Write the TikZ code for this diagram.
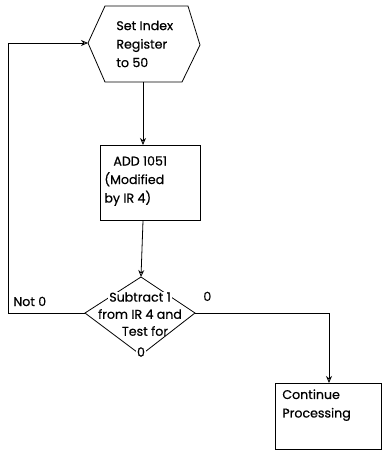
\documentclass[tikz,border=0pt]{standalone}
\usepackage{fontspec}
\setmainfont{Poppins}
\newfontfamily\fut{Poppins}[FakeBold=0.6]
\usetikzlibrary{arrows.meta}
\begin{document}
\begin{tikzpicture}[x=1pt,y=-1pt,
  line width=0.8pt,
  txt/.style={font=\fut\fontsize{12.6}{18.5}\selectfont, inner sep=0pt, align=left},
  wtxt/.style={txt, fill=white, inner xsep=1pt, inner ysep=0.5pt},
  conn/.style={draw, -{Stealth[length=7pt,width=6pt,open]}}]
\useasboundingbox (0,0) rectangle (381,461);
% hexagon
\coordinate (hTL) at (105,6);
\coordinate (hTR) at (188,6);
\coordinate (hR) at (200,45);
\coordinate (hBR) at (182,82);
\coordinate (hBL) at (105,82);
\coordinate (hL) at (88,43);
\draw (hTL) -- (hTR) -- (hR) -- (hBR) -- (hBL) -- (hL) -- cycle;
\node[txt, anchor=west] (hex) at (116,44) {Set Index\\Register\\to 50};
\coordinate (hB) at (143,82);
% ADD box
\node[draw, minimum width=100pt, minimum height=75pt, anchor=north west] (add) at (100,145) {};
\node[txt, anchor=west] (addtxt) at (104,181) {\hspace*{9pt}ADD 1051\\(Modified\\by IR 4)};
% diamond
\coordinate (dT) at (141,277);
\coordinate (dL) at (85,313);
\coordinate (dR) at (195,313);
\coordinate (dB) at (141,355);
\draw (dT) -- (dR) -- (dB) -- (dL) -- cycle;
\node[wtxt] (d1) at (140,297) {Subtract 1};
\node[wtxt] (d2) at (140,314) {from IR 4 and};
\node[txt] (d3) at (145,331) {Test for};
\node[wtxt] (d4) at (141,352) {0};
% continue box
\node[draw, minimum width=106pt, minimum height=66pt, anchor=north west] (cont) at (275,383) {};
\node[txt, anchor=north west] (conttxt) at (282,389) {Continue\\Processing};
% connectors
\draw[conn] (hB) -- (add.north -| hB);
\draw[conn] (add.south -| hB) -- (dT);
\coordinate (lc1) at (8,313);
\coordinate (lc2) at (8,43);
\draw[conn] (dL) -- (lc1) -- (lc2) -- (hL);
\coordinate (rc1) at (329,313);
\draw[conn] (dR) -- (rc1) -- (rc1 |- cont.north);
% labels
\node[txt, anchor=base west] (not0) at (13,306) {Not 0};
\node[txt, anchor=base west] (zero) at (203,301) {0};
\end{tikzpicture}
\end{document}
